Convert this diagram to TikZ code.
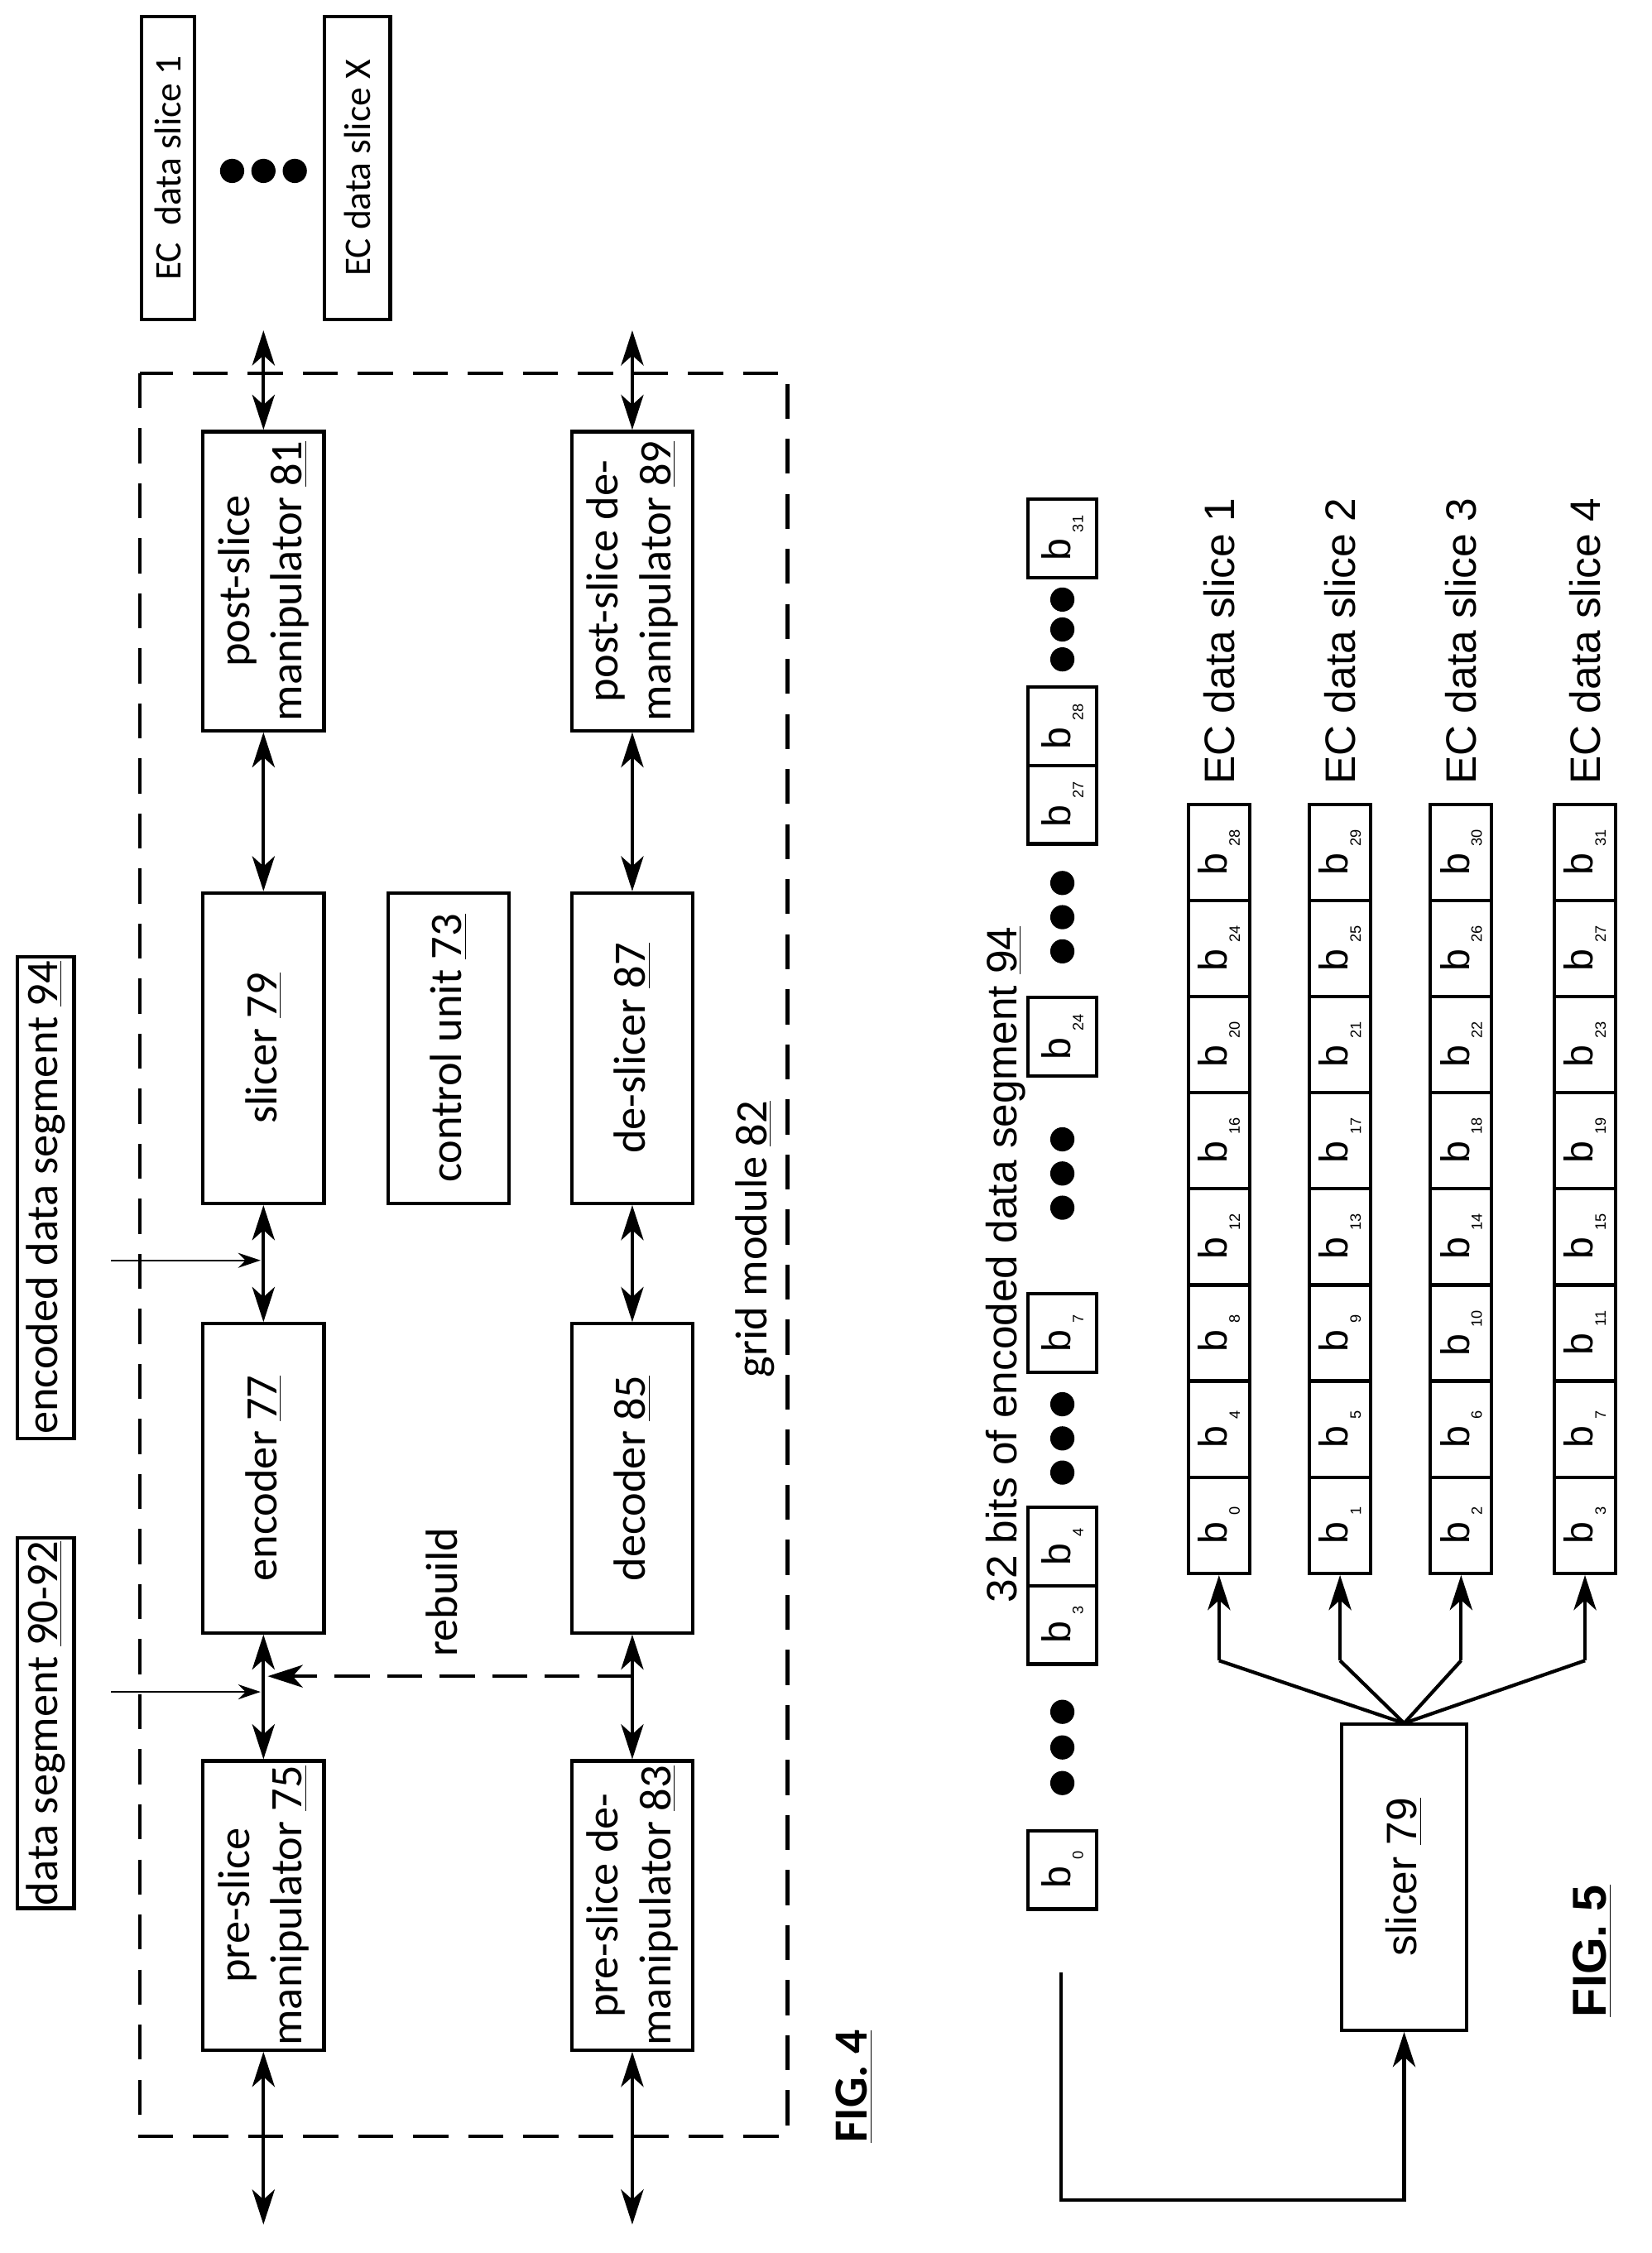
\documentclass[tikz,border=0pt]{standalone}
\usepackage{fontspec}
\setmainfont{Carlito}
\newfontfamily\arialf{Liberation Sans}
\usetikzlibrary{arrows.meta}
\tikzset{
  blk/.style={draw,line width=1.4pt,minimum height=1.7cm,inner sep=0pt,rotate=90,
    font=\fontsize{18}{21}\selectfont,align=center},
  bit/.style={draw,line width=1.4pt,minimum height=0.96cm,minimum width=1.1cm,inner sep=0pt,
    rotate=90,font=\arialf\fontsize{16}{18}\selectfont},
  dbl/.style={line width=1.4pt,{Stealth[length=14pt,width=9pt,inset=4pt]}-{Stealth[length=14pt,width=9pt,inset=4pt]}},
  sgl/.style={line width=1.4pt,-{Stealth[length=14pt,width=9pt,inset=4pt]}},
  thin/.style={line width=0.5pt,-{Stealth[length=9pt,width=6pt,inset=3pt]}},
  dot/.style={circle,fill,inner sep=0pt,minimum size=0.34cm},
}
\newcommand{\bsub}[1]{b\,\raisebox{-0.6ex}{\fontsize{6}{7}\selectfont #1}}
\begin{document}
\begin{tikzpicture}[x=0.02cm,y=-0.02cm]
\useasboundingbox (0,0) rectangle (1160,1582);

% fig. 4 : grid module
\draw[dashed,line width=1.4pt,dash pattern=on 14pt off 8pt] (98,262) rectangle (553,1500);
\node[rotate=90,font=\fontsize{18}{21}\selectfont] (grid) at (530,870) {grid module \underline{82}};

\node[blk,minimum width=4.06cm] (pre) at (185,1338) {pre-slice\\manipulator \underline{75}};
\node[blk,minimum width=4.34cm] (enc) at (185,1038) {encoder \underline{77}};
\node[blk,minimum width=4.36cm] (sli) at (185,736) {slicer \underline{79}};
\node[blk,minimum width=4.2cm] (post) at (185,408) {post-slice\\manipulator \underline{81}};
\node[blk,minimum width=4.36cm] (ctl) at (315,736) {control unit \underline{73}};
\node[blk,minimum width=4.06cm] (predm) at (444,1338) {pre-slice de-\\manipulator \underline{83}};
\node[blk,minimum width=4.34cm] (dec) at (444,1038) {decoder \underline{85}};
\node[blk,minimum width=4.36cm] (dsl) at (444,736) {de-slicer \underline{87}};
\node[blk,minimum width=4.2cm] (postdm) at (444,408) {post-slice de-\\manipulator \underline{89}};

% slices on top
\node[blk,minimum height=0.74cm,minimum width=4.26cm,font=\fontsize{15}{18}\selectfont] (ec1) at (118,118) {EC\ \ data slice 1};
\node[blk,minimum height=0.92cm,minimum width=4.26cm,font=\fontsize{15}{18}\selectfont] (ecx) at (251,118) {EC data slice X};
\foreach \d in {163,185,207} \node[dot] at (\d,120) {};

\coordinate (tA) at (185,232); \coordinate (tB) at (444,232);
\coordinate (bA) at (185,1562); \coordinate (bB) at (444,1562);
\draw[dbl] (post.east) -- (tA);
\draw[dbl] (postdm.east) -- (tB);
\draw[dbl] (pre.west) -- (bA);
\draw[dbl] (predm.west) -- (bB);
\draw[dbl] (sli.east) -- (post.west);
\draw[dbl] (enc.east) -- (sli.west);
\draw[dbl] (pre.east) -- (enc.west);
\draw[dbl] (dsl.east) -- (postdm.west);
\draw[dbl] (dec.east) -- (dsl.west);
\draw[dbl] (predm.east) -- (dec.west);

% inputs
\node[blk,minimum height=0.8cm,minimum width=5.2cm] (dseg) at (32,1210) {data segment \underline{90-92}};
\node[blk,minimum height=0.8cm,minimum width=6.76cm] (eseg) at (32,841) {encoded data segment \underline{94}};
\coordinate (inA) at (78,1188); \coordinate (inB) at (78,885);
\draw[thin] (inA) -- (183,1188);
\draw[thin] (inB) -- (183,885);

% rebuild path
\coordinate (rb) at (444,1177);
\draw[sgl,dashed,dash pattern=on 14pt off 7pt] (rb) -- (188,1177);
\node[rotate=90,font=\fontsize{18}{21}\selectfont] (rbl) at (310,1118) {rebuild};

\node[rotate=90,font=\bfseries\fontsize{19}{22}\selectfont] (fig4) at (600,1465) {\underline{FIG. 4}};

% fig. 5 : 32 bits
\node[rotate=90,font=\arialf\fontsize{17}{20}\selectfont] (lbl) at (706,888) {32 bits of encoded data segment \underline{94}};
\node[bit] (t0) at (746,1313) {\bsub{0}};
\node[bit] (t3) at (746,1141) {\bsub{3}};
\node[bit] (t4) at (746,1086) {\bsub{4}};
\node[bit] (t7) at (746,936) {\bsub{7}};
\node[bit] (t24) at (746,728) {\bsub{24}};
\node[bit] (t27) at (746,565) {\bsub{27}};
\node[bit] (t28) at (746,510) {\bsub{28}};
\node[bit] (t31) at (746,378) {\bsub{31}};
\foreach \d in {1252,1227,1202, 1034,1010,986, 848,824,800, 668,644,620, 463,442,421}
  \node[dot] at (746,\d) {};

% the four slices
\foreach \r/\x in {0/856,1/941,2/1026,3/1113}{
  \foreach \k in {0,...,7}{
    \pgfmathtruncatemacro{\n}{4*\k+\r}
    \node[bit,minimum height=0.86cm,minimum width=1.35cm] (s\r-\k) at (\x,{1071-67.5*\k}) {\bsub{\n}};
  }
  \pgfmathtruncatemacro{\m}{\r+1}
  \node[rotate=90,anchor=west,font=\arialf\fontsize{17}{20}\selectfont] (ecl\r) at (\x,557) {EC data slice \m};
}

\node[blk,minimum height=1.76cm,minimum width=4.3cm,font=\arialf\fontsize{17}{20}\selectfont] (slc) at (986,1318) {slicer \underline{79}};
\coordinate (fan) at (986,1210);
\foreach \r/\x in {0/856,1/941,2/1026,3/1113}{
  \draw[line width=1.4pt] (fan) -- (\x,1166);
  \draw[sgl] (\x,1166) -- (s\r-0.west);
}
\coordinate (src) at (745,1385);
\draw[sgl] (src) -- (745,1545) -- (986,1545) -- (slc.west);

\node[rotate=90,font=\arialf\bfseries\fontsize{19}{22}\selectfont] (fig5) at (1118,1370) {\underline{FIG. 5}};
\end{tikzpicture}
\end{document}
